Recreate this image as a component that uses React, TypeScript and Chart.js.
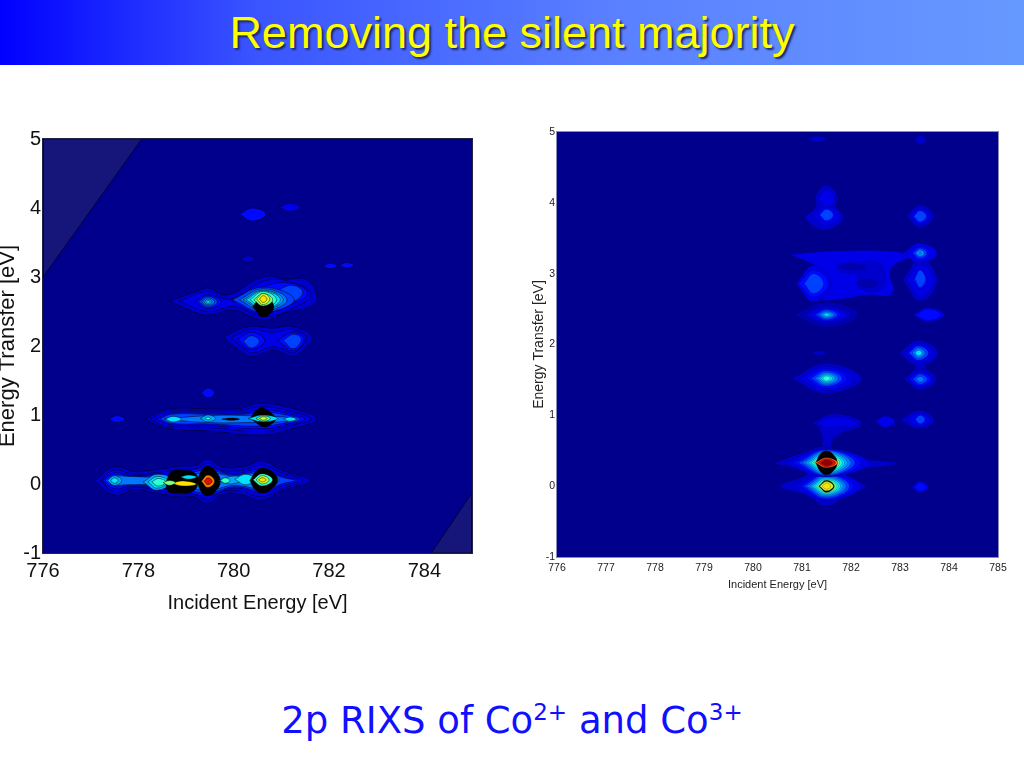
import React, { useEffect, useRef } from "react";
import { Chart, registerables } from "chart.js";

Chart.register(...registerables);

type Loop = [number, number[][]];

const levelColors = ["#00008c", "#0000b0", "#0000cc", "#0000e8", "#0008ff", "#0040ff", "#0078ff", "#00a8ff", "#00e0ff", "#30ffd0", "#80ff80", "#d0ff30", "#ffe000", "#ff8000", "#e01000", "#900000", "#000000"];
const cornerColor = "#15157a";

const leftXTicks = [776, 778, 780, 782, 784];
const rightXTicks = [776, 777, 778, 779, 780, 781, 782, 783, 784, 785];
const yTicks = [-1, 0, 1, 2, 3, 4, 5];

const leftCorners = [
  [[776, 3.0], [778.07, 5], [776, 5], [776, 3.0]],
  [[784.15, -1], [785, -0.13], [785, -1], [784.15, -1]],
];

const leftRowZero: Loop[] = [
  [2, [[777.09,.05],[777.5,.25],[777.9,.18],[778.3,.2],[778.9,.26],[779.2,.27],[779.46,.36],[779.75,.25],[780.2,.25],[780.6,.33],[781,.2],[781.6,.05],[781,-.1],[780.6,-.23],[780.1,-.14],[779.75,-.15],[779.46,-.28],[779.15,-.18],[778.9,-.19],[778.3,-.12],[777.9,-.08],[777.5,-.16]]],
  [3, [[777.2,.05],[777.5,.2],[777.9,.14],[778.3,.16],[778.9,.21],[779.2,.22],[779.46,.3],[779.75,.2],[780.2,.2],[780.6,.27],[781,.16],[781.45,.05],[781,-.07],[780.6,-.18],[780.1,-.1],[779.75,-.11],[779.46,-.22],[779.15,-.14],[778.9,-.15],[778.3,-.08],[777.9,-.05],[777.5,-.11]]],
  [4, [[777.25,.05],[777.5,.16],[777.85,.12],[778.3,.14],[778.9,.17],[779.46,.24],[780,.15],[780.6,.22],[781,.12],[781.35,.05],[781,-.03],[780.6,-.13],[780,-.06],[779.46,-.17],[778.9,-.1],[778.3,-.05],[777.85,-.03],[777.5,-.07]]],
  [5, [[777.3,.05],[777.5,.13],[777.9,.1],[778.3,.12],[778.9,.14],[779.46,.2],[780,.13],[780.6,.18],[781.05,.09],[781.28,.05],[781.05,.01],[780.6,-.09],[780,-.04],[779.46,-.13],[778.9,-.07],[778.3,-.03],[777.9,0],[777.5,-.03]]],
  [6, [[777.35,.05],[777.5,.11],[777.8,.11],[778.3,.1],[778.9,.12],[779.46,.16],[780,.12],[780.6,.15],[780.95,.06],[780.6,-.06],[780,-.02],[779.46,-.09],[778.9,-.04],[778.3,-.01],[777.8,-.01],[777.5,-.01]]],
  [7, [[777.35,.05],[777.5,.12],[777.65,.05],[777.5,-.02]]],
  [8, [[777.42,.05],[777.5,.09],[777.58,.05],[777.5,.01]]],
  [7, [[778.1,.03],[778.4,.14],[778.72,.05],[778.4,-.09]]],
  [8, [[778.2,.03],[778.4,.11],[778.62,.04],[778.4,-.06]]],
  [9, [[778.28,.03],[778.42,.08],[778.58,.03],[778.42,-.03]]],
  [16, [[778.58,.03],[778.7,.18],[778.95,.2],[779.2,.15],[779.25,.03],[779.15,-.1],[778.8,-.13],[778.62,-.1]]],
  [8, [[778.88,.1],[779.05,.13],[779.22,.1],[779.05,.07]]],
  [12, [[778.68,.01],[778.95,.045],[779.22,.0],[778.95,-.03]]],
  [10, [[778.52,.02],[778.65,.05],[778.78,.02],[778.65,-.02]]],
  [16, [[779.23,.04],[779.35,.22],[779.46,.26],[779.6,.2],[779.72,.04],[779.6,-.12],[779.46,-.17],[779.33,-.12]]],
  [13, [[779.32,.04],[779.46,.13],[779.6,.04],[779.46,-.05]]],
  [14, [[779.38,.04],[779.46,.09],[779.55,.04],[779.46,-.01]]],
  [7, [[779.68,.05],[779.95,.11],[780.3,.09],[779.95,0]]],
  [9, [[779.72,.05],[779.82,.09],[779.92,.05],[779.82,.01]]],
  [8, [[780.02,.07],[780.25,.14],[780.45,.07],[780.25,-.01]]],
  [16, [[780.34,.05],[780.48,.19],[780.62,.23],[780.8,.18],[780.92,.06],[780.8,-.07],[780.62,-.13],[780.45,-.08]]],
  [9, [[780.4,.06],[780.6,.15],[780.82,.06],[780.6,-.03]]],
  [11, [[780.47,.06],[780.6,.12],[780.74,.06],[780.6,0]]],
  [12, [[780.52,.06],[780.6,.09],[780.68,.06],[780.6,.03]]],
];

const leftRowOne: Loop[] = [
  [2, [[778.14,.94],[778.6,1.08],[779.46,1.09],[780.1,1.09],[780.55,1.17],[781.25,1.09],[781.75,.94],[781.25,.81],[780.62,.71],[779.46,.77],[778.6,.81]]],
  [3, [[778.25,.94],[778.6,1.05],[779.46,1.06],[780.1,1.06],[780.58,1.12],[781.2,1.05],[781.62,.94],[781.2,.85],[780.62,.76],[779.46,.82],[778.6,.84]]],
  [4, [[778.35,.94],[778.7,1.03],[779.46,1.03],[780.2,1.03],[780.6,1.08],[781.15,1.02],[781.5,.94],[781.15,.87],[780.62,.8],[779.46,.85],[778.7,.86]]],
  [5, [[778.45,.94],[778.7,1.01],[779.46,1.01],[780.25,1.01],[780.6,1.04],[781.1,1.0],[781.4,.94],[781.1,.89],[780.62,.84],[779.46,.87],[778.7,.88]]],
  [6, [[778.55,.94],[779.46,.99],[780.3,.99],[781.3,.95],[780.95,.9],[780.3,.89],[779.46,.89]]],
  [8, [[778.56,.94],[778.73,.98],[778.9,.94],[778.73,.9]]],
  [7, [[779.3,.95],[779.46,1.0],[779.62,.95],[779.46,.9]]],
  [9, [[779.4,.95],[779.46,.97],[779.52,.95],[779.46,.93]]],
  [16, [[779.75,.94],[779.95,.955],[780.12,.94],[779.95,.925]]],
  [16, [[780.35,.96],[780.5,1.08],[780.62,1.1],[780.8,1.02],[780.88,.94],[780.75,.85],[780.62,.83],[780.45,.9]]],
  [8, [[780.3,.95],[780.62,1.0],[780.92,.95],[780.62,.9]]],
  [10, [[780.47,.95],[780.62,.99],[780.77,.95],[780.62,.91]]],
  [11, [[780.54,.95],[780.62,.975],[780.7,.95],[780.62,.925]]],
  [8, [[781.05,.94],[781.18,.97],[781.31,.94],[781.18,.91]]],
];

const leftRowTwo: Loop[] = [
  [2, [[778.66,2.65],[779.25,2.8],[779.46,2.84],[779.86,2.74],[780.62,3.0],[781.12,2.97],[781.53,2.96],[781.75,2.71],[781.6,2.57],[781.12,2.49],[780.62,2.38],[779.99,2.52],[779.46,2.45],[779.08,2.52]]],
  [3, [[778.85,2.65],[779.46,2.79],[779.85,2.68],[780.2,2.76],[780.62,2.94],[781.2,2.93],[781.62,2.75],[781.3,2.57],[780.62,2.43],[780,2.57],[779.46,2.5]]],
  [4, [[779.18,2.64],[779.46,2.74],[779.74,2.64],[779.46,2.54]]],
  [5, [[779.26,2.64],[779.46,2.72],[779.66,2.64],[779.46,2.56]]],
  [6, [[779.32,2.64],[779.46,2.7],[779.6,2.64],[779.46,2.58]]],
  [7, [[779.37,2.64],[779.46,2.68],[779.55,2.64],[779.46,2.6]]],
  [8, [[779.41,2.64],[779.46,2.66],[779.51,2.64],[779.46,2.62]]],
  [4, [[779.95,2.67],[780.6,2.86],[781.2,2.91],[781.55,2.76],[781.2,2.6],[780.6,2.47],[780.2,2.56]]],
  [5, [[780.85,2.76],[781.2,2.88],[781.45,2.78],[781.2,2.64]]],
  [5, [[779.97,2.67],[780.62,2.85],[781.27,2.67],[780.62,2.49]]],
  [6, [[780.12,2.67],[780.62,2.83],[781.12,2.67],[780.62,2.51]]],
  [7, [[780.2,2.67],[780.62,2.81],[781.04,2.67],[780.62,2.53]]],
  [8, [[780.26,2.67],[780.62,2.8],[780.98,2.67],[780.62,2.54]]],
  [9, [[780.34,2.67],[780.62,2.79],[780.9,2.67],[780.62,2.55]]],
  [16, [[780.4,2.57],[780.62,2.74],[780.84,2.57],[780.62,2.42]]],
  [10, [[780.42,2.67],[780.62,2.76],[780.82,2.67],[780.62,2.58]]],
  [11, [[780.48,2.68],[780.62,2.76],[780.76,2.68],[780.62,2.6]]],
  [12, [[780.54,2.68],[780.62,2.73],[780.7,2.68],[780.62,2.63]]],
];

const leftRowTwoLow: Loop[] = [
  [2, [[779.78,2.13],[780.3,2.28],[780.8,2.26],[781.25,2.28],[781.64,2.12],[781.4,1.91],[781.25,1.85],[780.83,1.94],[780.4,1.85],[780.12,1.94]]],
  [3, [[779.95,2.12],[780.35,2.24],[780.8,2.2],[781.25,2.24],[781.53,2.12],[781.35,1.95],[781.25,1.9],[780.83,1.99],[780.4,1.9],[780.2,1.98]]],
  [4, [[780.08,2.1],[780.37,2.2],[780.65,2.08],[780.37,1.95]]],
  [4, [[780.92,2.08],[781.25,2.2],[781.48,2.1],[781.25,1.93]]],
  [5, [[780.2,2.07],[780.37,2.15],[780.54,2.07],[780.37,1.97]]],
  [5, [[781.04,2.08],[781.25,2.17],[781.42,2.1],[781.25,1.96]]],
];

const leftSpots: Loop[] = [
  [4, [[780.12,3.91],[780.4,4.0],[780.68,3.91],[780.4,3.81]]],
  [3, [[780.95,4.01],[781.18,4.07],[781.4,4.01],[781.18,3.95]]],
  [2, [[780.15,3.26],[780.3,3.31],[780.45,3.26],[780.3,3.21]]],
  [4, [[781.87,3.16],[782.02,3.2],[782.17,3.16],[782.02,3.12]]],
  [4, [[782.22,3.17],[782.37,3.21],[782.52,3.17],[782.37,3.13]]],
  [4, [[777.38,.94],[777.55,.99],[777.72,.94],[777.55,.89]]],
  [4, [[779.32,1.32],[779.46,1.39],[779.6,1.32],[779.46,1.25]]],
];

const rightPeakTop: Loop[] = [
  [2, [[781.1,4.9],[781.3,4.94],[781.5,4.9],[781.3,4.86]]],
  [2, [[783.29,4.89],[783.41,4.95],[783.53,4.89],[783.41,4.83]]],
  [2, [[781.05,3.8],[781.28,3.95],[781.28,4.1],[781.5,4.25],[781.72,4.1],[781.7,3.95],[781.85,3.78],[781.5,3.62],[781.2,3.68]]],
  [3, [[781.33,4.06],[781.5,4.18],[781.67,4.06],[781.5,3.92]]],
  [3, [[781.22,3.82],[781.5,3.95],[781.78,3.82],[781.5,3.68]]],
  [5, [[781.36,3.83],[781.5,3.91],[781.64,3.83],[781.5,3.75]]],
  [2, [[783.13,3.81],[783.41,3.97],[783.69,3.81],[783.41,3.65]]],
  [3, [[783.21,3.81],[783.41,3.93],[783.61,3.81],[783.41,3.69]]],
  [5, [[783.28,3.81],[783.41,3.89],[783.54,3.81],[783.41,3.73]]],
];

const rightPatch: Loop[] = [
  [3, [[780.73,3.27],[781.71,3.32],[782.94,3.31],[783.2,3.24],[782.94,3.15],[782.8,3.03],[782.84,2.72],[782.33,2.7],[781.65,2.63],[781.3,2.65],[780.97,2.84],[781.24,3.1],[781.04,3.19]]],
  [2, [[781.71,3.12],[782.12,3.17],[782.63,3.12],[782.63,2.79],[782.19,2.79],[782.12,2.98],[781.78,3.03]]],
  [1, [[782.1,2.86],[782.35,2.92],[782.55,2.86],[782.35,2.81]]],
  [1, [[781.75,3.09],[782,3.13],[782.3,3.09],[782,3.05]]],
  [3, [[780.88,2.86],[781.24,3.12],[781.6,2.86],[781.24,2.6]]],
  [4, [[780.93,2.86],[781.24,3.05],[781.55,2.86],[781.24,2.67]]],
  [5, [[781.04,2.86],[781.24,3.0],[781.44,2.86],[781.24,2.72]]],
  [2, [[783.06,2.91],[783.41,3.21],[783.76,2.91],[783.41,2.61]]],
  [3, [[783.14,2.91],[783.41,3.13],[783.68,2.91],[783.41,2.69]]],
  [4, [[783.26,2.91],[783.41,3.03],[783.56,2.91],[783.41,2.79]]],
  [5, [[783.3,2.93],[783.41,3.05],[783.52,2.93],[783.41,2.81]]],
  [3, [[783.06,3.29],[783.41,3.43],[783.76,3.29],[783.41,3.15]]],
  [4, [[783.21,3.29],[783.41,3.39],[783.61,3.29],[783.41,3.19]]],
  [5, [[783.27,3.29],[783.41,3.36],[783.55,3.29],[783.41,3.22]]],
  [7, [[783.33,3.29],[783.41,3.33],[783.49,3.29],[783.41,3.25]]],
  [6, [[783.37,3.29],[783.41,3.31],[783.45,3.29],[783.41,3.27]]],
];

const rightPeakMiddle: Loop[] = [
  [1, [[780.83,2.42],[781.5,2.6],[782.15,2.42],[781.5,2.24]]],
  [2, [[781,2.42],[781.5,2.55],[782,2.42],[781.5,2.29]]],
  [3, [[781.1,2.42],[781.5,2.53],[781.9,2.42],[781.5,2.31]]],
  [4, [[781.2,2.42],[781.5,2.51],[781.8,2.42],[781.5,2.33]]],
  [5, [[781.28,2.42],[781.5,2.49],[781.72,2.42],[781.5,2.35]]],
  [6, [[781.34,2.42],[781.5,2.47],[781.66,2.42],[781.5,2.37]]],
  [7, [[781.39,2.42],[781.5,2.455],[781.61,2.42],[781.5,2.385]]],
  [8, [[781.44,2.42],[781.5,2.44],[781.56,2.42],[781.5,2.4]]],
  [3, [[783.26,2.42],[783.58,2.52],[783.9,2.42],[783.58,2.32]]],
  [4, [[783.33,2.42],[783.58,2.5],[783.83,2.42],[783.58,2.34]]],
  [2, [[781.19,1.88],[781.34,1.91],[781.49,1.88],[781.34,1.85]]],
  [2, [[783.31,1.75],[783.5,1.75],[783.5,1.55],[783.31,1.55]]],
  [2, [[782.98,1.88],[783.38,2.06],[783.78,1.88],[783.38,1.7]]],
  [3, [[783.08,1.88],[783.38,2.02],[783.68,1.88],[783.38,1.74]]],
  [5, [[783.18,1.88],[783.38,1.98],[783.58,1.88],[783.38,1.78]]],
  [6, [[783.25,1.88],[783.38,1.95],[783.51,1.88],[783.38,1.81]]],
  [8, [[783.31,1.88],[783.38,1.92],[783.45,1.88],[783.38,1.84]]],
  [2, [[783.08,1.51],[783.41,1.66],[783.74,1.51],[783.41,1.36]]],
  [4, [[783.18,1.51],[783.41,1.61],[783.64,1.51],[783.41,1.41]]],
  [5, [[783.26,1.51],[783.41,1.58],[783.56,1.51],[783.41,1.44]]],
  [6, [[783.33,1.51],[783.41,1.55],[783.49,1.51],[783.41,1.47]]],
  [2, [[780.78,1.52],[781.5,1.73],[782.22,1.52],[781.5,1.31]]],
  [3, [[780.95,1.52],[781.5,1.69],[782.05,1.52],[781.5,1.35]]],
  [4, [[781.08,1.52],[781.5,1.66],[781.92,1.52],[781.5,1.38]]],
  [5, [[781.18,1.52],[781.5,1.63],[781.82,1.52],[781.5,1.41]]],
  [6, [[781.26,1.52],[781.5,1.61],[781.74,1.52],[781.5,1.43]]],
  [7, [[781.32,1.52],[781.5,1.59],[781.68,1.52],[781.5,1.45]]],
  [8, [[781.37,1.52],[781.5,1.57],[781.63,1.52],[781.5,1.47]]],
  [9, [[781.42,1.52],[781.5,1.555],[781.58,1.52],[781.5,1.485]]],
];

const rightPeakBottom: Loop[] = [
  [2, [[781.2,.89],[781.65,1.02],[782.22,.89],[781.65,.75]]],
  [3, [[781.3,.89],[781.65,.98],[782.1,.89],[781.65,.79]]],
  [3, [[782.5,.91],[782.7,.99],[782.9,.91],[782.7,.83]]],
  [2, [[782.99,.93],[783.41,1.07],[783.69,.93],[783.41,.81]]],
  [3, [[783.15,.94],[783.41,1.04],[783.62,.94],[783.41,.84]]],
  [5, [[783.31,.94],[783.41,1.0],[783.51,.94],[783.41,.88]]],
  [3, [[783.24,-.01],[783.41,.07],[783.58,-.01],[783.41,-.09]]],
  [4, [[783.29,-.01],[783.41,.05],[783.53,-.01],[783.41,-.07]]],
  [2, [[781.35,.82],[781.95,.82],[781.62,.65],[781.6,.5],[781.4,.5],[781.42,.65]]],
  [2, [[780.42,.32],[781,.47],[781.5,.56],[781.8,.45],[782.3,.38],[782.94,.32],[782.3,.25],[781.9,.2],[781.75,.13],[782.3,0],[781.9,-.13],[781.5,-.28],[781.1,-.13],[780.56,0],[781.1,.16],[781,.22]]],
  [3, [[780.8,0],[781.5,.2],[782.2,0],[781.5,-.2]]],
  [4, [[780.95,0],[781.5,.19],[782.05,0],[781.5,-.19]]],
  [5, [[781.03,0],[781.5,.17],[781.97,0],[781.5,-.17]]],
  [6, [[781.1,0],[781.5,.15],[781.9,0],[781.5,-.15]]],
  [7, [[781.16,0],[781.5,.13],[781.84,0],[781.5,-.13]]],
  [8, [[781.21,0],[781.5,.115],[781.79,0],[781.5,-.115]]],
  [9, [[781.26,0],[781.5,.1],[781.74,0],[781.5,-.1]]],
  [10, [[781.3,0],[781.5,.09],[781.7,0],[781.5,-.09]]],
  [16, [[781.34,0],[781.5,.085],[781.66,0],[781.5,-.085]]],
  [11, [[781.36,0],[781.5,.065],[781.64,0],[781.5,-.065]]],
  [12, [[781.41,0],[781.5,.045],[781.59,0],[781.5,-.045]]],
  [3, [[780.65,.33],[781.5,.53],[782.35,.33],[781.5,.13]]],
  [4, [[780.8,.33],[781.5,.52],[782.2,.33],[781.5,.14]]],
  [5, [[780.92,.33],[781.5,.51],[782.08,.33],[781.5,.15]]],
  [6, [[781,.33],[781.5,.5],[782,.33],[781.5,.16]]],
  [7, [[781.07,.33],[781.5,.485],[781.93,.33],[781.5,.175]]],
  [8, [[781.13,.33],[781.5,.47],[781.87,.33],[781.5,.19]]],
  [9, [[781.18,.33],[781.5,.455],[781.82,.33],[781.5,.205]]],
  [10, [[781.23,.33],[781.5,.44],[781.77,.33],[781.5,.22]]],
  [11, [[781.28,.33],[781.5,.43],[781.72,.33],[781.5,.23]]],
  [16, [[781.28,.33],[781.38,.46],[781.5,.5],[781.62,.46],[781.72,.33],[781.62,.2],[781.5,.16],[781.38,.2]]],
  [13, [[781.27,.33],[781.5,.4],[781.73,.33],[781.5,.26]]],
  [14, [[781.31,.33],[781.5,.39],[781.69,.33],[781.5,.27]]],
  [15, [[781.38,.33],[781.5,.37],[781.62,.33],[781.5,.29]]],
];

const leftLoops: Loop[] = [...leftRowZero, ...leftRowOne, ...leftRowTwo, ...leftRowTwoLow, ...leftSpots];
const rightLoops: Loop[] = [...rightPeakTop, ...rightPatch, ...rightPeakMiddle, ...rightPeakBottom];

const toPoints = (v: number[][]) => {
  const pts = v.map(([x, y]) => ({ x, y }));
  return [...pts, pts[0]];
};

const loopDataset = (loop: Loop, i: number, total: number, line: string, width: number) => ({
  data: toPoints(loop[1]),
  showLine: true,
  fill: "shape",
  backgroundColor: levelColors[loop[0]],
  borderColor: line,
  borderWidth: width,
  pointRadius: 0,
  tension: 0.45,
  order: total - i,
});

const framePlugin = {
  id: "frame",
  beforeDatasetsDraw(chart: any) {
    const { ctx, chartArea: c } = chart;
    ctx.save();
    ctx.fillStyle = levelColors[0];
    ctx.fillRect(c.left, c.top, c.right - c.left, c.bottom - c.top);
    ctx.restore();
  },
  afterDatasetsDraw(chart: any, _a: any, o: any) {
    const { ctx, chartArea: c } = chart;
    ctx.save();
    ctx.strokeStyle = o.color;
    ctx.lineWidth = 1;
    ctx.strokeRect(c.left - 0.5, c.top - 0.5, c.right - c.left + 1, c.bottom - c.top + 1);
    ctx.restore();
  },
};

interface PanelProps {
  loops: Loop[];
  corners: number[][][];
  xTicks: number[];
  line: string;
  lineWidth: number;
  frame: string;
  style: { left: number; top: number; width: number; height: number };
  pad: { top: number; right: number };
  yWidth: number;
  xHeight: number;
  tickFont: number;
  xTitleFont: number;
  yTitleFont: number;
  xPad: number;
  color: string;
}

function Panel(p: PanelProps) {
  const ref = useRef<HTMLCanvasElement>(null);
  useEffect(() => {
    const n = p.corners.length + p.loops.length;
    const datasets: any[] = [
      ...p.corners.map((c, i) => ({
        data: c.map(([x, y]) => ({ x, y })),
        showLine: true,
        fill: "shape",
        backgroundColor: cornerColor,
        borderColor: p.line,
        borderWidth: 1,
        pointRadius: 0,
        tension: 0,
        order: n + 1 - i,
      })),
      ...p.loops.map((l, i) => loopDataset(l, i, p.loops.length, p.line, p.lineWidth)),
    ];
    const family = '"Liberation Sans", Arial, sans-serif';
    const chart = new Chart(ref.current as HTMLCanvasElement, {
      type: "scatter",
      data: { datasets },
      plugins: [framePlugin],
      options: {
        animation: false,
        responsive: false,
        devicePixelRatio: 1,
        layout: { padding: { top: p.pad.top, right: p.pad.right, left: 0, bottom: 0 } },
        plugins: { legend: { display: false }, tooltip: { enabled: false }, frame: { color: p.frame } },
        scales: {
          x: {
            type: "linear",
            min: 776,
            max: 785,
            afterBuildTicks: (s: any) => { s.ticks = p.xTicks.map((value) => ({ value })); },
            afterFit: (s: any) => { s.height = p.xHeight; },
            grid: { display: false, drawTicks: false },
            border: { display: false },
            ticks: { autoSkip: false, maxRotation: 0, padding: p.xPad, color: p.color, font: { family, size: p.tickFont } },
            title: { display: true, text: "Incident Energy [eV]", color: p.color, padding: 0, font: { family, size: p.xTitleFont } },
          },
          y: {
            type: "linear",
            min: -1,
            max: 5,
            afterBuildTicks: (s: any) => { s.ticks = yTicks.map((value) => ({ value })); },
            afterFit: (s: any) => { s.width = p.yWidth; },
            grid: { display: false, drawTicks: false },
            border: { display: false },
            ticks: { autoSkip: false, padding: 2, color: p.color, font: { family, size: p.tickFont } },
            title: { display: true, text: "Energy Transfer [eV]", color: p.color, padding: 0, font: { family, size: p.yTitleFont, lineHeight: 1 } },
          },
        },
      } as any,
    } as any);
    return () => chart.destroy();
  }, []);
  return <canvas ref={ref} width={p.style.width} height={p.style.height} style={{ position: "absolute", ...p.style, display: "block" }} />;
}

export default function App() {
  return (
    <div style={{ position: "absolute", left: 0, top: 0, width: 1024, height: 768, overflow: "hidden", background: "#fff" }}>
      <div style={{ position: "absolute", left: 0, top: 0, width: 1024, height: 65, background: "linear-gradient(90deg,#0000ff 0%,#3a55ff 25%,#5a80ff 60%,#6699ff 100%)" }} />
      <div style={{ position: "absolute", left: 0, top: 6, width: 1024, textAlign: "center", fontFamily: '"Liberation Sans", Arial, sans-serif', fontSize: 45, lineHeight: "54px", color: "#ffff00", textShadow: "2px 2px 2px #1a2a66" }}>
        Removing the silent majority
      </div>
      <Panel loops={leftLoops} corners={leftCorners} xTicks={leftXTicks} line="rgba(0,0,0,0.6)" lineWidth={0.8} frame="#222244"
        style={{ left: -3, top: 120, width: 500, height: 495 }} pad={{ top: 19, right: 25 }} yWidth={46} xHeight={62}
        tickFont={20} xTitleFont={20} yTitleFont={22} xPad={6} color="#111" />
      <Panel loops={rightLoops} corners={[]} xTicks={rightXTicks} line="rgba(0,0,70,0.3)" lineWidth={0.8} frame="#8a8ab8"
        style={{ left: 532, top: 115, width: 488, height: 477 }} pad={{ top: 17, right: 22 }} yWidth={25} xHeight={35}
        tickFont={10.5} xTitleFont={11} yTitleFont={14} xPad={5} color="#222" />
      <div style={{ position: "absolute", left: 0, top: 696, width: 1024, textAlign: "center", fontFamily: '"DejaVu Sans", sans-serif', fontSize: 37, lineHeight: "50px", color: "#1010ff" }}>
        2p RIXS of Co<sup style={{ fontSize: 23, lineHeight: 0 }}>2+</sup> and Co<sup style={{ fontSize: 23, lineHeight: 0 }}>3+</sup>
      </div>
    </div>
  );
}
